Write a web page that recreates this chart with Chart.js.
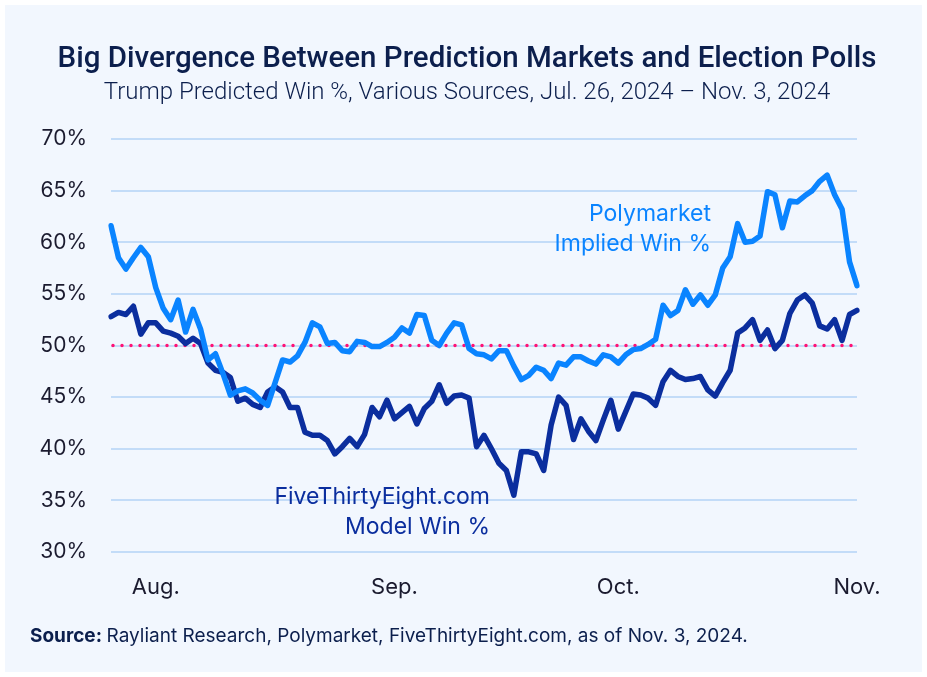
<!DOCTYPE html>
<html>
<head>
<meta charset="utf-8">
<script src="https://cdn.jsdelivr.net/npm/chart.js@4.4.1/dist/chart.umd.min.js"></script>
<style>
  html, body { margin: 0; padding: 0; background: #fff; }
</style>
</head>
<body>
<canvas id="chart" width="927" height="677"></canvas>
<script>
// daily readings, Jul 26 2024 .. Nov 3 2024
const startDate = new Date(2024, 6, 26);
const dayCount = 101;
const dates = [];
for (let i = 0; i < dayCount; i++) {
    const d = new Date(startDate);
    d.setDate(d.getDate() + i);
    dates.push(d.toISOString().slice(0, 10));
}

const monthLabels = { 6: 'Aug.', 38: 'Sep.', 68: 'Oct.', 100: 'Nov.' };

const polymarket = [
    61.6, 58.5, 57.4, 58.5, 59.5, 58.6, 55.6, 53.6, 52.5, 54.4,
    51.3, 53.5, 51.6, 48.6, 49.2, 47.3, 45.2, 45.6, 45.8, 45.4,
    44.7, 44.2, 46.4, 48.6, 48.4, 49.0, 50.3, 52.2, 51.8, 50.2,
    50.3, 49.5, 49.4, 50.4, 50.3, 49.9, 49.9, 50.3, 50.8, 51.7,
    51.2, 53.0, 52.9, 50.5, 50.0, 51.2, 52.2, 52.0, 49.7, 49.2,
    49.1, 48.7, 49.5, 49.5, 48.0, 46.7, 47.1, 47.9, 47.6, 46.8,
    48.3, 48.1, 48.9, 48.9, 48.5, 48.2, 49.1, 48.9, 48.3, 49.1,
    49.6, 49.7, 50.1, 50.6, 53.9, 52.9, 53.4, 55.4, 54.0, 54.9,
    53.9, 54.9, 57.5, 58.6, 61.8, 60.0, 60.1, 60.6, 64.9, 64.6,
    61.4, 64.0, 63.9, 64.5, 65.0, 65.9, 66.5, 64.6, 63.2, 58.1,
    55.8
];

const fiveThirtyEight = [
    52.8, 53.2, 53.0, 53.8, 51.1, 52.2, 52.2, 51.4, 51.2, 50.9,
    50.2, 50.7, 50.2, 48.3, 47.6, 47.4, 46.9, 44.6, 44.9, 44.3,
    44.0, 45.5, 46.0, 45.5, 44.0, 44.0, 41.6, 41.3, 41.3, 40.8,
    39.5, 40.2, 41.0, 40.2, 41.4, 44.0, 43.1, 44.7, 42.9, 43.5,
    44.1, 42.4, 43.9, 44.6, 46.2, 44.4, 45.1, 45.2, 44.9, 40.2,
    41.3, 40.0, 38.6, 37.9, 35.5, 39.7, 39.7, 39.5, 37.9, 42.3,
    45.0, 44.2, 40.9, 42.9, 41.7, 40.8, 42.8, 44.7, 41.9, 43.6,
    45.3, 45.2, 44.9, 44.2, 46.5, 47.6, 47.0, 46.7, 46.8, 47.0,
    45.7, 45.1, 46.4, 47.6, 51.2, 51.7, 52.5, 50.5, 51.5, 49.7,
    50.5, 53.1, 54.4, 54.9, 54.1, 51.9, 51.6, 52.5, 50.5, 53.0,
    53.4
];

const yMin = 30, yMax = 70, yStep = 5;
const refLevel = 50;

const navy = '#0c1f4d';
const lightBlue = '#0a84ff';
const darkBlue = '#0b2e9e';

const decor = {
    id: 'decor',
    beforeDraw(chart) {
        const ctx = chart.ctx;
        ctx.save();
        ctx.fillStyle = '#ffffff';
        ctx.fillRect(0, 0, chart.width, chart.height);
        ctx.fillStyle = '#f2f7fe';
        ctx.fillRect(5, 5, chart.width - 10, chart.height - 10);
        ctx.restore();
    },
    beforeDatasetsDraw(chart) {
        const ctx = chart.ctx;
        const y = chart.scales.y.getPixelForValue(refLevel);
        const a = chart.chartArea;
        ctx.save();
        ctx.strokeStyle = '#ff1276';
        ctx.lineWidth = 3.5;
        ctx.lineCap = 'round';
        ctx.setLineDash([0, 9]);
        ctx.beginPath();
        ctx.moveTo(a.left + 2, y);
        ctx.lineTo(a.right, y);
        ctx.stroke();
        ctx.restore();
    },
    afterDraw(chart) {
        const ctx = chart.ctx;
        ctx.save();
        ctx.textBaseline = 'middle';
        ctx.textAlign = 'center';
        ctx.fillStyle = navy;
        ctx.font = '500 29.5px Roboto';
        ctx.fillText('Big Divergence Between Prediction Markets and Election Polls', 467, 60);
        ctx.font = '300 24px Roboto';
        ctx.fillText('Trump Predicted Win %, Various Sources, Jul. 26, 2024 \u2013 Nov. 3, 2024', 467, 93);

        ctx.textAlign = 'right';
        ctx.font = '23px Inter';
        ctx.fillStyle = lightBlue;
        ctx.fillText('Polymarket', 711, 214);
        ctx.fillText('Implied Win %', 711, 244);
        ctx.fillStyle = darkBlue;
        ctx.fillText('FiveThirtyEight.com', 490, 497);
        ctx.fillText('Model Win %', 490, 527);

        ctx.textAlign = 'left';
        ctx.fillStyle = navy;
        ctx.font = '700 19px Inter';
        ctx.fillText('Source:', 30, 636);
        const w = ctx.measureText('Source: ').width;
        ctx.font = '19px Inter';
        ctx.fillText('Rayliant Research, Polymarket, FiveThirtyEight.com, as of Nov. 3, 2024.', 30 + w, 636);
        ctx.restore();
    }
};

new Chart(document.getElementById('chart'), {
    type: 'line',
    data: {
        labels: dates,
        datasets: [
            {
                label: 'Polymarket Implied Win %',
                data: polymarket,
                borderColor: lightBlue,
                borderWidth: 5.5,
                pointRadius: 0,
                tension: 0,
                borderJoinStyle: 'round',
                borderCapStyle: 'round'
            },
            {
                label: 'FiveThirtyEight.com Model Win %',
                data: fiveThirtyEight,
                borderColor: darkBlue,
                borderWidth: 5.5,
                pointRadius: 0,
                tension: 0,
                borderJoinStyle: 'round',
                borderCapStyle: 'round'
            }
        ]
    },
    options: {
        responsive: false,
        animation: false,
        devicePixelRatio: 1,
        layout: { padding: { top: 139, right: 70, bottom: 75, left: 0 } },
        plugins: {
            legend: { display: false },
            tooltip: { enabled: false }
        },
        scales: {
            x: {
                grid: { display: false, drawTicks: false },
                border: { display: false },
                afterFit(scale) { scale.height = 50; },
                ticks: {
                    autoSkip: false,
                    maxRotation: 0,
                    padding: 22,
                    color: '#1b1b2f',
                    font: { family: 'Inter', size: 22 },
                    callback: (v, i) => monthLabels[i] || ''
                }
            },
            y: {
                min: yMin,
                max: yMax,
                afterFit(scale) { scale.width = 111; },
                grid: { color: '#c3dcf8', lineWidth: 2, drawTicks: false },
                border: { display: false },
                ticks: {
                    stepSize: yStep,
                    padding: 24,
                    color: '#1b1b2f',
                    font: { family: 'Inter', size: 21 },
                    callback: v => v + '%'
                }
            }
        }
    },
    plugins: [decor]
});
</script>
</body>
</html>
